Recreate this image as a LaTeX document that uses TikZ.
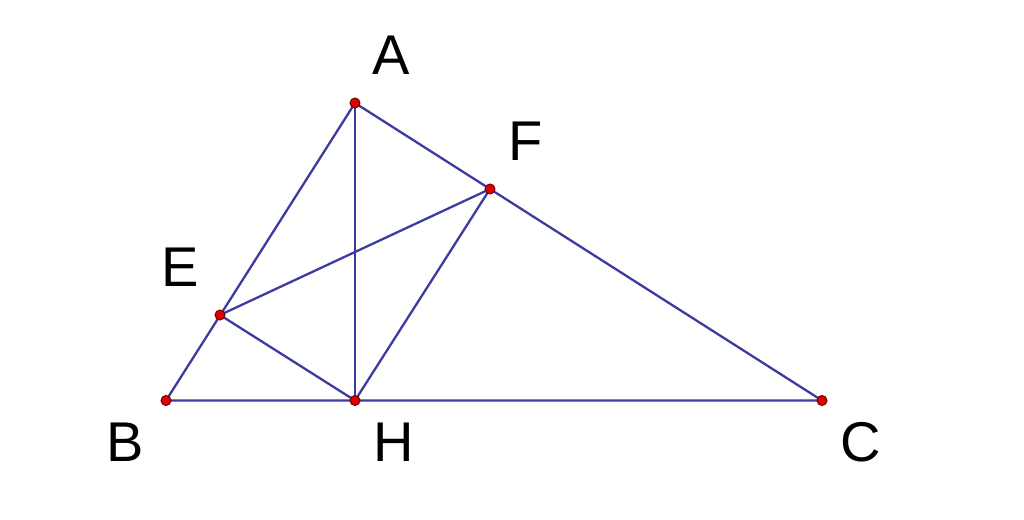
\documentclass[tikz,border=0pt]{standalone}
\usepackage{fontspec}
\setmainfont{Liberation Sans}
\definecolor{segc}{RGB}{60,60,160}
\definecolor{ptfill}{RGB}{220,0,0}
\definecolor{ptdraw}{RGB}{120,0,0}
\begin{document}
\begin{tikzpicture}[x=1pt,y=-1pt,
  seg/.style={draw=segc,line width=2.3pt},
  pt/.style={circle,fill=ptfill,draw=ptdraw,line width=1pt,inner sep=0pt,minimum size=10pt},
  lab/.style={font=\fontsize{56}{60}\selectfont,inner sep=0pt,anchor=center}]
\useasboundingbox[fill=white] (0,0) rectangle (1024,519);
\coordinate (A) at (355,103);
\coordinate (B) at (166,400.5);
\coordinate (C) at (822,400.5);
\coordinate (H) at (355,400.5);
\coordinate (E) at (220,315);
\coordinate (F) at (490,189);
\draw[seg] (A) -- (B) -- (C) -- cycle;
\draw[seg] (A) -- (H);
\draw[seg] (E) -- (F);
\draw[seg] (E) -- (H);
\draw[seg] (F) -- (H);
\foreach \p in {A,B,C,H,E,F} \node[pt] (p\p) at (\p) {};
\node[lab] (lA) at (391,55) {A};
\node[lab] (lF) at (526,141) {F};
\node[lab] (lE) at (180,267) {E};
\node[lab] (lB) at (125,442) {B};
\node[lab] (lH) at (394,442) {H};
\node[lab] (lC) at (861,442) {C};
\end{tikzpicture}
\end{document}
